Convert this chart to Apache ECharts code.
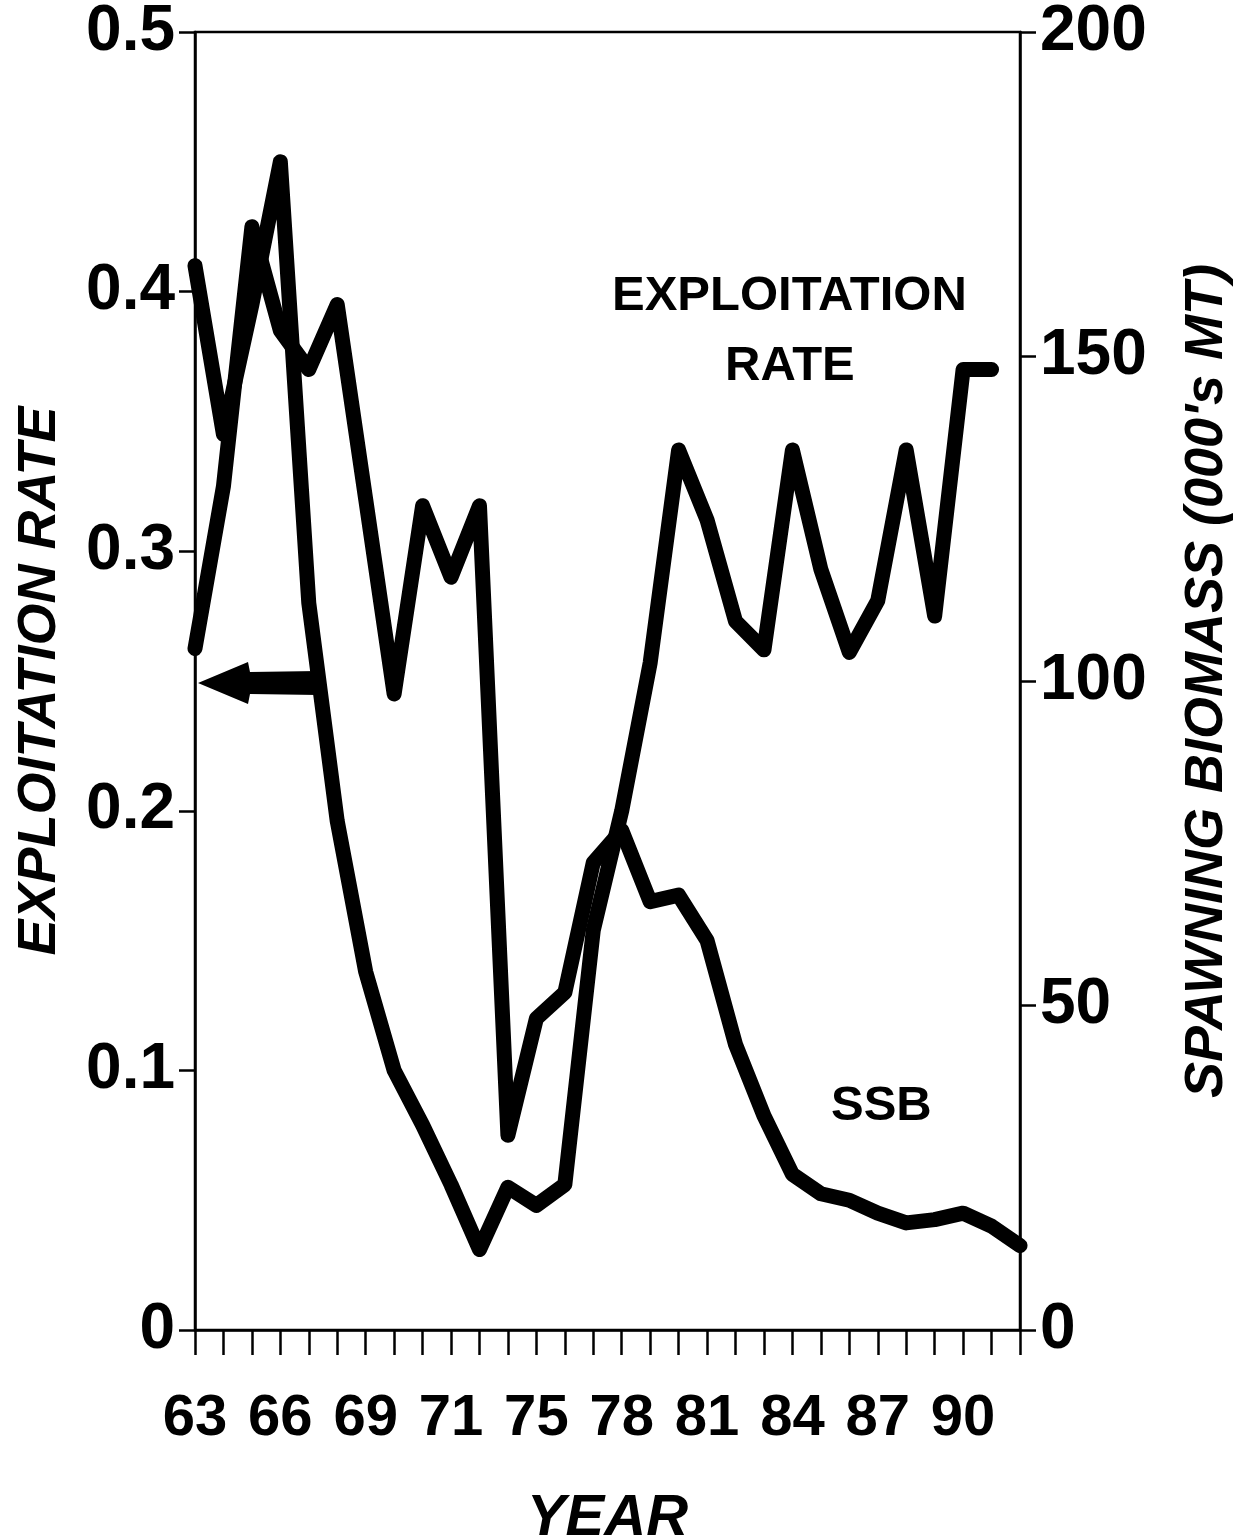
<!DOCTYPE html>
<html>
<head>
<meta charset="utf-8">
<script src="https://cdn.jsdelivr.net/npm/echarts@6/dist/echarts.min.js"></script>
<style>
  html, body { margin: 0; padding: 0; background: #fff; }
  #chart { width: 1239px; height: 1540px; }
</style>
</head>
<body>
<div id="chart"></div>
<script>
// ---- data ----
const years = ['63','64','65','66','67','68','69','70','71','72','73','74','75','76','77',
               '78','79','80','81','82','83','84','85','86','87','88','89','90','91','92'];
const xTickLabels = ['63','66','69','71','75','78','81','84','87','90']; // every 3rd tick, as printed
const exploitationRate = [0.41, 0.345, 0.395, 0.45, 0.28, 0.196, 0.138, 0.10, 0.079, 0.056,
                          0.031, 0.055, 0.048, 0.056, 0.154, 0.20, 0.257, 0.339, 0.312, 0.273,
                          0.262, 0.339, 0.293, 0.261, 0.281, 0.339, 0.275, 0.37, 0.37, null];
const ssb = [105, 130, 170, 154, 148, 158, 128, 98, 127, 116,
             127, 30, 48, 52, 72, 77, 66, 67, 60, 44,
             33, 24, 21, 20, 18, 16.5, 17, 18, 16, 13];
const leftTicks = { min: 0, max: 0.5, interval: 0.1 };
const rightTicks = { min: 0, max: 200, interval: 50 };

const FONT = '"Liberation Sans", Arial, Helvetica, sans-serif';
const chart = echarts.init(document.getElementById('chart'), null, { renderer: 'canvas' });

const axisLineStyle = { color: '#000', width: 2.5 };

chart.setOption({
  backgroundColor: '#fff',
  animation: false,
  grid: {
    left: 195, right: 219, top: 32, bottom: 210,
    containLabel: false, outerBoundsMode: 'none',
    show: true, borderColor: '#000', borderWidth: 2.5
  },
  xAxis: {
    type: 'category',
    data: years,
    boundaryGap: false,
    name: 'YEAR',
    nameLocation: 'middle',
    nameGap: 160,
    nameTextStyle: { fontFamily: FONT, fontSize: 58, fontWeight: 'bold', fontStyle: 'italic', color: '#000' },
    axisLine: { lineStyle: axisLineStyle },
    axisTick: { show: true, interval: 0, length: 25, inside: false, lineStyle: { color: '#000', width: 2.5 } },
    axisLabel: {
      interval: 2,
      margin: 60,
      fontFamily: FONT, fontSize: 58, fontWeight: 'bold', color: '#000',
      formatter: function (v, i) { return xTickLabels[i / 3] || ''; }
    },
    splitLine: { show: false }
  },
  yAxis: [
    {
      type: 'value',
      min: leftTicks.min, max: leftTicks.max, interval: leftTicks.interval,
      position: 'left',
      name: 'EXPLOITATION RATE',
      nameLocation: 'middle',
      nameRotate: 90,
      nameGap: 128,
      nameTextStyle: { fontFamily: FONT, fontSize: 54, fontWeight: 'bold', fontStyle: 'italic', color: '#000' },
      axisLine: { show: true, lineStyle: axisLineStyle },
      axisTick: { show: true, length: 16, lineStyle: { color: '#000', width: 2.5 } },
      axisLabel: {
        margin: 20, fontFamily: FONT, fontSize: 64, fontWeight: 'bold', color: '#000',
        formatter: function (v) { return v === 0 ? '0' : v.toFixed(1); }
      },
      splitLine: { show: false }
    },
    {
      type: 'value',
      min: rightTicks.min, max: rightTicks.max, interval: rightTicks.interval,
      position: 'right',
      name: "SPAWNING BIOMASS (000's MT)",
      nameLocation: 'middle',
      nameRotate: 90,
      nameGap: 160,
      nameTextStyle: { fontFamily: FONT, fontSize: 54, fontWeight: 'bold', fontStyle: 'italic', color: '#000' },
      axisLine: { show: true, lineStyle: axisLineStyle },
      axisTick: { show: true, length: 16, lineStyle: { color: '#000', width: 2.5 } },
      axisLabel: { margin: 20, fontFamily: FONT, fontSize: 64, fontWeight: 'bold', color: '#000' },
      splitLine: { show: false }
    }
  ],
  series: [
    {
      name: 'EXPLOITATION RATE',
      type: 'line',
      yAxisIndex: 0,
      data: exploitationRate,
      showSymbol: false,
      symbol: 'none',
      lineStyle: { color: '#000', width: 15, join: 'round', cap: 'round' }
    },
    {
      name: 'SSB',
      type: 'line',
      yAxisIndex: 1,
      data: ssb,
      showSymbol: false,
      symbol: 'none',
      lineStyle: { color: '#000', width: 15, join: 'round', cap: 'round' }
    }
  ],
  graphic: [
    { type: 'text', left: 612, top: 272, style: { text: 'EXPLOITATION', font: 'bold 49px ' + FONT, fill: '#000' } },
    { type: 'text', left: 725, top: 342, style: { text: 'RATE', font: 'bold 49px ' + FONT, fill: '#000' } },
    { type: 'text', left: 831, top: 1082, style: { text: 'SSB', font: 'bold 49px ' + FONT, fill: '#000' } },
    {
      type: 'polygon',
      shape: { points: [[198, 683], [248, 662], [250, 672], [318, 671], [318, 695], [250, 694], [248, 704]] },
      style: { fill: '#000' }
    }
  ]
});
</script>
</body>
</html>
